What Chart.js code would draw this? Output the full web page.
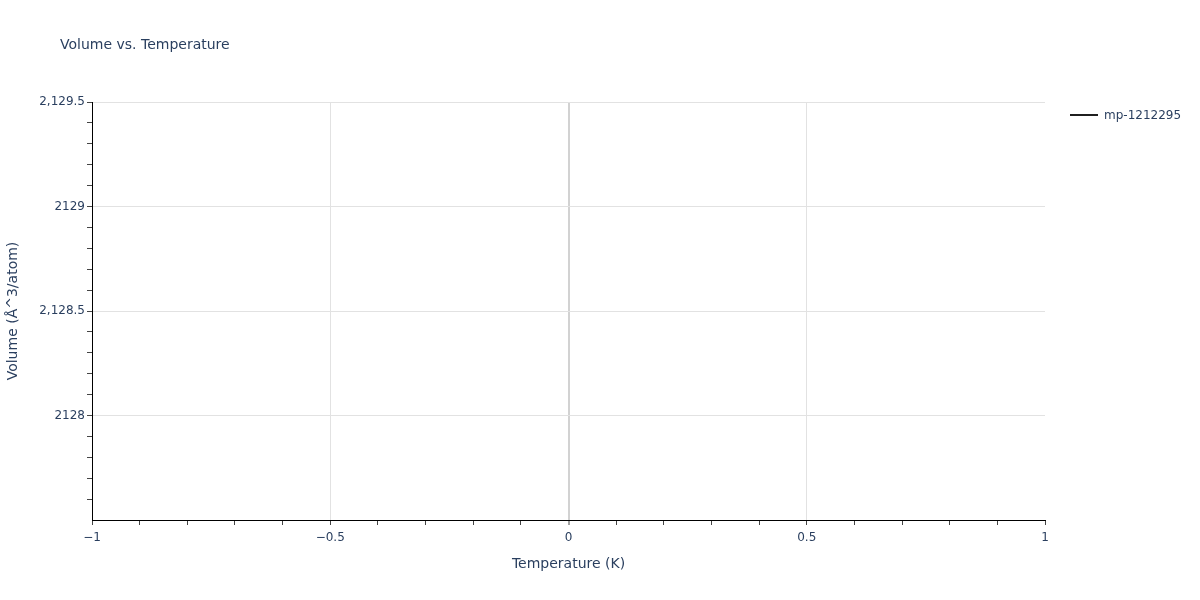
<!DOCTYPE html>
<html>
<head>
<meta charset="utf-8">
<script src="https://cdn.jsdelivr.net/npm/chart.js@4.4.1/dist/chart.umd.min.js"></script>
<style>
  html, body { margin: 0; padding: 0; background: #fff; }
  #wrap { width: 1200px; height: 600px; position: relative; }
</style>
</head>
<body>
<div id="wrap"><canvas id="volumeChart"></canvas></div>
<script>
// data
const seriesName = 'mp-1212295';
const temperatures = [0];
const volumes = [2128.5];

// axis ranges and tick labels
const xRange = [-1, 1];
const yRange = [2127.5, 2129.5];
const xTickValues = [-1, -0.5, 0, 0.5, 1];
const xTickLabels = ['\u22121', '\u22120.5', '0', '0.5', '1'];
const yTickValues = [2128, 2128.5, 2129, 2129.5];
const yTickLabels = ['2128', '2,128.5', '2129', '2,129.5'];

const textColor = '#2a3f5f';
const fontFamily = '"DejaVu Sans", Verdana, sans-serif';

function near(a, b) { return Math.abs(a - b) < 1e-6; }
function isMajor(v, list) { return list.some(t => near(t, v)); }

// minor ticks every 0.1 between the ends of the range
function tenthTicks(from, to) {
    const out = [];
    for (let i = Math.round(from * 10); i <= Math.round(to * 10); i++) {
        out.push({ value: i / 10 });
    }
    return out;
}

const titlePlugin = {
    id: 'plotTitle',
    afterDraw(chart) {
        const ctx = chart.ctx;
        ctx.save();
        ctx.fillStyle = textColor;
        ctx.font = '14px ' + fontFamily;
        ctx.textBaseline = 'middle';
        ctx.fillText('Volume vs. Temperature', 60, 45);
        ctx.restore();
    }
};

const sideLegend = {
    id: 'sideLegend',
    afterDraw(chart) {
        const ctx = chart.ctx;
        const x = chart.chartArea.right + 25;
        const y = chart.chartArea.top + 13;
        chart.data.datasets.forEach((ds, i) => {
            const yy = y + i * 19;
            ctx.save();
            ctx.strokeStyle = ds.borderColor;
            ctx.lineWidth = 2;
            ctx.beginPath();
            ctx.moveTo(x, yy);
            ctx.lineTo(x + 28, yy);
            ctx.stroke();
            ctx.fillStyle = textColor;
            ctx.font = '12px ' + fontFamily;
            ctx.textBaseline = 'middle';
            ctx.fillText(ds.label, x + 34, yy + 1);
            ctx.restore();
        });
    }
};

new Chart(document.getElementById('volumeChart'), {
    type: 'line',
    data: {
        datasets: [{
            label: seriesName,
            data: temperatures.map((t, i) => ({ x: t, y: volumes[i] })),
            borderColor: '#1f1f1f',
            backgroundColor: '#1f1f1f',
            borderWidth: 2,
            pointRadius: 0,
            fill: false
        }]
    },
    options: {
        responsive: true,
        maintainAspectRatio: false,
        animation: false,
        layout: { padding: { top: 102, right: 155, bottom: 27, left: 0 } },
        plugins: {
            legend: { display: false },
            title: { display: false },
            tooltip: { enabled: false }
        },
        scales: {
            x: {
                type: 'linear',
                min: xRange[0],
                max: xRange[1],
                afterBuildTicks: scale => { scale.ticks = tenthTicks(xRange[0], xRange[1]); },
                afterFit: scale => { scale.height = 53; },
                ticks: {
                    autoSkip: false,
                    maxRotation: 0,
                    padding: 6,
                    color: textColor,
                    font: { family: fontFamily, size: 12 },
                    callback: v => {
                        const i = xTickValues.findIndex(t => near(t, v));
                        return i >= 0 ? xTickLabels[i] : '';
                    }
                },
                grid: {
                    drawTicks: true,
                    tickLength: 5,
                    tickWidth: 1,
                    tickColor: '#444',
                    color: c => {
                        const v = c.tick.value;
                        if (near(v, 0)) return '#d2d2d2';
                        if (near(v, xRange[1])) return 'rgba(0,0,0,0)';
                        return isMajor(v, xTickValues) ? '#e2e2e2' : 'rgba(0,0,0,0)';
                    },
                    lineWidth: c => near(c.tick.value, 0) ? 2 : 1
                },
                border: { display: true, color: '#000', width: 1 },
                title: {
                    display: true,
                    text: 'Temperature (K)',
                    color: textColor,
                    font: { family: fontFamily, size: 14 },
                    padding: { top: 4, bottom: 0 }
                }
            },
            y: {
                type: 'linear',
                min: yRange[0],
                max: yRange[1],
                afterBuildTicks: scale => {
                    scale.ticks = tenthTicks(yRange[0], yRange[1]).filter(t => !near(t.value, yRange[0]));
                },
                afterFit: scale => { scale.width = 92; },
                ticks: {
                    autoSkip: false,
                    padding: 2,
                    color: textColor,
                    font: { family: fontFamily, size: 12 },
                    callback: v => {
                        const i = yTickValues.findIndex(t => near(t, v));
                        return i >= 0 ? yTickLabels[i] : '';
                    }
                },
                grid: {
                    drawTicks: true,
                    tickLength: 5,
                    tickWidth: 1,
                    tickColor: '#444',
                    color: c => isMajor(c.tick.value, yTickValues) ? '#e2e2e2' : 'rgba(0,0,0,0)',
                    lineWidth: 1
                },
                border: { display: true, color: '#000', width: 1 },
                title: {
                    display: true,
                    text: 'Volume (\u00c5^3/atom)',
                    color: textColor,
                    font: { family: fontFamily, size: 14 },
                    padding: { top: 5, bottom: 4 }
                }
            }
        }
    },
    plugins: [titlePlugin, sideLegend]
});
</script>
</body>
</html>
